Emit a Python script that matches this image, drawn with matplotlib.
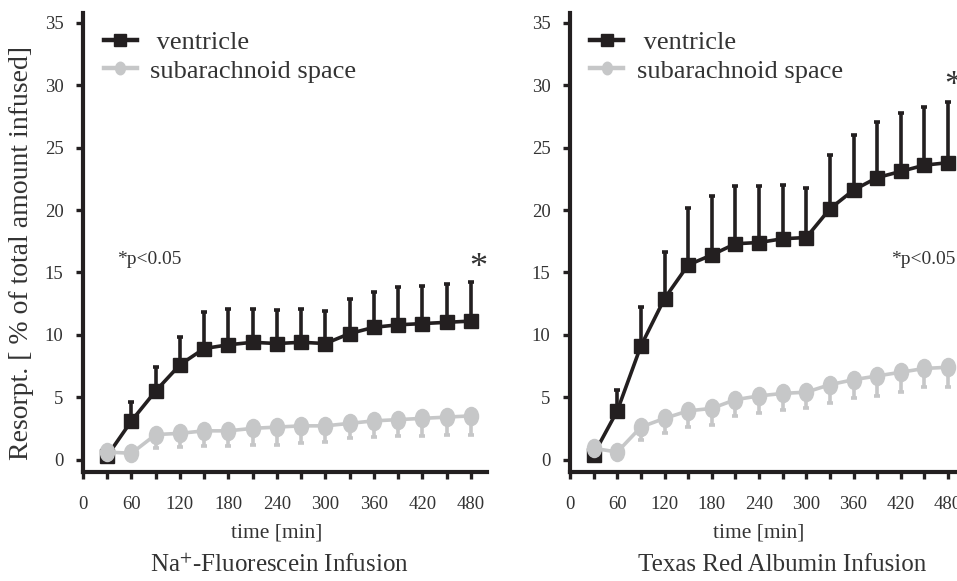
import numpy as np
import matplotlib
matplotlib.use("Agg")
import matplotlib.pyplot as plt
from matplotlib.lines import Line2D
from matplotlib.markers import MarkerStyle
from matplotlib.transforms import Affine2D

plt.rcParams["font.family"] = ["Liberation Serif", "DejaVu Serif"]
plt.rcParams["mathtext.fontset"] = "stix"

time_min = [30, 60, 90, 120, 150, 180, 210, 240, 270, 300, 330, 360, 390, 420, 450, 480]

# Na+-Fluorescein
fluo_ventricle = [0.3, 3.1, 5.5, 7.6, 8.9, 9.2, 9.4, 9.3, 9.4, 9.3, 10.1, 10.6, 10.8, 10.9, 11.0, 11.1]
fluo_ventricle_top = [0.6, 4.6, 7.4, 9.8, 11.8, 12.1, 12.1, 12.0, 12.1, 11.9, 12.9, 13.4, 13.8, 13.9, 14.1, 14.2]
fluo_subarach = [0.6, 0.5, 2.0, 2.1, 2.3, 2.3, 2.5, 2.6, 2.7, 2.7, 2.9, 3.1, 3.2, 3.3, 3.4, 3.5]
fluo_subarach_low = [0.3, 0.2, 0.9, 1.0, 1.1, 1.1, 1.2, 1.2, 1.3, 1.4, 1.7, 1.8, 1.9, 1.9, 2.0, 2.0]

# Texas Red Albumin
texas_ventricle = [0.4, 3.9, 9.1, 12.9, 15.6, 16.4, 17.3, 17.4, 17.7, 17.8, 20.1, 21.6, 22.6, 23.1, 23.6, 23.8]
texas_ventricle_top = [0.7, 5.6, 12.2, 16.6, 20.2, 21.1, 21.9, 21.9, 22.0, 21.8, 24.4, 26.0, 27.1, 27.8, 28.3, 28.7]
texas_subarach = [0.9, 0.6, 2.6, 3.3, 3.9, 4.1, 4.8, 5.1, 5.3, 5.4, 6.0, 6.4, 6.7, 7.0, 7.3, 7.4]
texas_subarach_low = [0.6, 0.3, 1.6, 2.1, 2.6, 2.8, 3.5, 3.7, 4.0, 4.1, 4.5, 4.9, 5.1, 5.4, 5.8, 5.8]

BLACK = "#231f20"
GRAY = "#c6c7c8"
TEXT = "#333333"

W, H = 957, 581
fig = plt.figure(figsize=(W / 100, H / 100), dpi=100)

oval = MarkerStyle("o", transform=Affine2D().scale(0.78, 1.0))


def panel(ax, vent, vent_top, sub, sub_low):
    x = np.array(time_min)
    vent = np.array(vent)
    sub = np.array(sub)
    up = np.array(vent_top) - vent
    dn = sub - np.array(sub_low)
    ax.errorbar(x, vent, yerr=[np.zeros_like(up), up], color=BLACK, lw=2.6,
                marker="s", ms=10, mfc=BLACK, mec=BLACK, elinewidth=2.6,
                capsize=2.2, capthick=2.6, zorder=3)
    ax.errorbar(x, sub, yerr=[dn, np.zeros_like(dn)], color=GRAY, lw=2.6,
                marker=oval, ms=13, mfc=GRAY, mec=GRAY, elinewidth=2.6,
                capsize=2.2, capthick=2.6, zorder=4)
    ax.set_xlim(0, 500)
    ax.set_ylim(-1, 35.8)
    ax.set_xticks(np.arange(0, 481, 60))
    ax.set_xticks(np.arange(30, 481, 60), minor=True)
    ax.set_yticks(np.arange(0, 36, 5))
    for s in ("top", "right"):
        ax.spines[s].set_visible(False)
    for s in ("left", "bottom"):
        ax.spines[s].set_linewidth(3.0)
        ax.spines[s].set_color(BLACK)
    ax.tick_params(which="both", direction="out", length=5, width=2.4,
                   color=BLACK, labelsize=13.5, labelcolor=TEXT)
    ax.tick_params(axis="x", which="both", pad=12)
    ax.tick_params(axis="y", pad=9)
    ax.set_xlabel("time [min]", fontsize=15.5, color=TEXT, x=240 / 500, labelpad=8)
    handles = [
        Line2D([], [], color=BLACK, lw=3.2, marker="s", ms=8),
        Line2D([], [], color=GRAY, lw=3.2, marker=oval, ms=9),
    ]
    leg = ax.legend(handles, [" ventricle", "subarachnoid space"], loc="upper left",
                    frameon=False, fontsize=19, handlelength=1.25, handletextpad=0.5,
                    labelspacing=0.2, borderaxespad=0.0, bbox_to_anchor=(0.025, 0.985))
    for t in leg.get_texts():
        t.set_color(TEXT)


ax1 = fig.add_axes([83 / W, 1 - 472 / H, 500 * 0.808 / W, (472 - 13) / H])
panel(ax1, fluo_ventricle, fluo_ventricle_top, fluo_subarach, fluo_subarach_low)
ax1.text(42, 16.0, "*p<0.05", fontsize=14, color=TEXT, va="center", ha="left")
ax1.text(489, 15.3, "*", fontsize=26, color=TEXT, ha="center", va="center")

ax2 = fig.add_axes([570 / W, 1 - 472 / H, 500 * 0.7875 / W, (472 - 13) / H])
panel(ax2, texas_ventricle, texas_ventricle_top, texas_subarach, texas_subarach_low)
ax2.text(408, 16.0, "*p<0.05", fontsize=14, color=TEXT, va="center", ha="left")
ax2.text(487, 29.9, "*", fontsize=26, color=TEXT, ha="center", va="center")

fig.text(22 / W, 1 - 253 / H, "Resorpt. [ % of total amount infused]", fontsize=20,
         color=TEXT, rotation=90, ha="center", va="center")
fig.text(279 / W, 1 - 565 / H, "Na$^{+}$-Fluorescein Infusion", fontsize=18,
         color=TEXT, ha="center", va="center")
fig.text(782 / W, 1 - 565 / H, "Texas Red Albumin Infusion", fontsize=18,
         color=TEXT, ha="center", va="center")

fig.savefig("out.png", dpi=100)
